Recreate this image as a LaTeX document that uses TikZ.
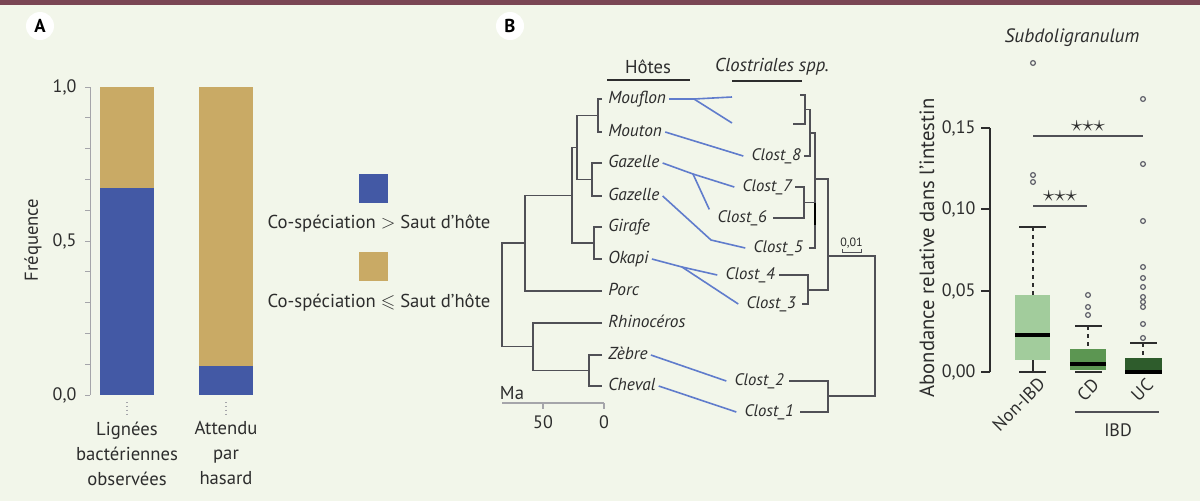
\documentclass[tikz,border=0pt]{standalone}
\usepackage{amsmath}
\usepackage{amssymb}
\usepackage{fontspec}
\setmainfont{PT Sans}
\usetikzlibrary{positioning, calc}

\definecolor{bgcol}{RGB}{242,246,234}
\definecolor{topbar}{RGB}{122,70,84}
\definecolor{ink}{RGB}{45,45,45}
\definecolor{axgray}{RGB}{165,165,170}
\definecolor{barblue}{RGB}{67,89,165}
\definecolor{bartan}{RGB}{201,170,101}
\definecolor{linkblue}{RGB}{96,124,204}
\definecolor{treegray}{RGB}{80,80,86}
\definecolor{dotgray}{RGB}{95,95,105}
\definecolor{lgreen}{RGB}{162,204,156}
\definecolor{mgreen}{RGB}{92,150,82}
\definecolor{dgreen}{RGB}{46,92,44}

\begin{document}
\begin{tikzpicture}[x=0.75pt, y=-0.75pt,
  txt/.style={text=ink, inner sep=1pt},
  big/.style={txt, font=\fontsize{14}{18.75}\selectfont},
  num/.style={txt, font=\fontsize{13.5}{15}\selectfont},
  host/.style={txt, font=\fontsize{13}{14}\selectfont\itshape, anchor=west,
    inner xsep=2.25pt, text height=8.5pt, text depth=2pt},
  clost/.style={txt, font=\fontsize{12.5}{14}\selectfont\itshape, anchor=east,
    inner xsep=6pt, text height=8.5pt, text depth=2pt},
  branch/.style={draw=treegray, line width=1.1pt},
  link/.style={draw=linkblue, line width=1.2pt},
  whisk/.style={draw=ink, line width=1pt},
  outl/.style={draw=dotgray, line width=0.9pt},
  stars/.style={txt, font=\fontsize{17}{17}\selectfont},
  panel/.style={circle, fill=white, minimum size=21pt, inner sep=0pt,
    font=\fontsize{14}{15}\selectfont\bfseries}]

% background
\fill[bgcol] (0,0) rectangle (1200,501);
\useasboundingbox (0,0) rectangle (1200,501);
\fill[topbar] (0,0) rectangle (1200,5);

% panel letters
\node[panel] (pA) at (40,26) {A};
\node[panel] (pB) at (510,26) {B};

% A: axis
\draw[axgray, line width=0.7pt] (90,87) -- (90,395);
\foreach \i in {0,...,10}
  \draw[axgray, line width=0.7pt] (85,{395-30.8*\i}) -- (90,{395-30.8*\i});
\node[num, anchor=east] (t10) at (78,87) {1,0};
\node[num, anchor=east] (t05) at (78,241) {0,5};
\node[num, anchor=east] (t00) at (78,395) {0,0};
\node[big, rotate=90] (freq) at (33,240) {Fréquence};

% A: bars
\fill[bartan] (100,87) rectangle (154,188);
\fill[barblue] (100,188) rectangle (154,395);
\fill[bartan] (199,87) rectangle (253,366);
\fill[barblue] (199,366) rectangle (253,395);
\draw[axgray, dotted, line width=0.9pt] (127,402) -- (127,416);
\draw[axgray, dotted, line width=0.9pt] (226,402) -- (226,416);
\node[big, align=center, anchor=north] (obs) at (127,420) {Lignées\\bactériennes\\observées};
\node[big, align=center, anchor=north] (hasard) at (226,420) {Attendu\\par\\hasard};

% A: legend
\node[fill=barblue, minimum size=21.75pt, inner sep=0pt] (sq1) at (373.5,188.5) {};
\node[big] (leg1) at (379,224) {Co-spéciation $>$ Saut d’hôte};
\node[fill=bartan, minimum size=21.75pt, inner sep=0pt] (sq2) at (373.5,266.5) {};
\node[big] (leg2) at (379,303) {Co-spéciation $\leqslant$ Saut d’hôte};

% B: headers
\node[big] (hotes) at (648,67) {Hôtes};
\draw[ink, line width=1.8pt] (607,80) -- (690,80);
\node[txt, font=\fontsize{14}{15}\selectfont\itshape] (clostr) at (772,67) {Clostriales spp.};
\draw[ink, line width=1.8pt] (732,81) -- (802,81);

% B: hosts
\node[host] (mouflon) at (605,99) {Mouflon};
\node[host] (mouton) at (605,132) {Mouton};
\node[host] (gazA) at (605,163) {Gazelle};
\node[host] (gazB) at (605,196) {Gazelle};
\node[host] (girafe) at (605,227) {Girafe};
\node[host] (okapi) at (605,259) {Okapi};
\node[host] (porc) at (605,291) {Porc};
\node[host] (rhino) at (605,323) {Rhinocéros};
\node[host] (zebre) at (605,355) {Zèbre};
\node[host] (cheval) at (605,386) {Cheval};

% B: host tree
\draw[branch] (602,99) -| (598,132) -- (602,132);
\draw[branch] (602,163) -| (592,196) -- (602,196);
\draw[branch] (598,115.5) -| (577,179.5) -- (592,179.5);
\draw[branch] (602,227) -| (594,259) -- (602,259);
\draw[branch] (577,147.5) -| (572,243) -- (594,243);
\draw[branch] (572,195.25) -| (525,291) -- (602,291);
\draw[branch] (602,355) -| (589,386) -- (602,386);
\draw[branch] (602,323) -| (533,370.5) -- (589,370.5);
\draw[branch] (525,243.1) -| (502,346.75) -- (533,346.75);

% B: time scale
\node[big] (ma) at (512,393) {Ma};
\draw[axgray, line width=0.9pt] (502,403) -- (604,403);
\draw[axgray, line width=0.9pt] (543,403) -- (543,409);
\draw[axgray, line width=0.9pt] (604,403) -- (604,409);
\node[num] (m50) at (543,422) {50};
\node[num] (m0) at (604,422) {0};

% B: bacteria
\node[clost] (c8) at (809,156) {Clost\_8};
\node[clost] (c7) at (800,187) {Clost\_7};
\node[clost] (c6) at (775,218) {Clost\_6};
\node[clost] (c5) at (811,248) {Clost\_5};
\node[clost] (c4) at (783,275) {Clost\_4};
\node[clost] (c3) at (804,304) {Clost\_3};
\node[clost] (c2) at (792,381) {Clost\_2};
\node[clost] (c1) at (802,412) {Clost\_1};

% B: bacteria tree
\draw[branch] (800,95) -| (805,124) -- (793,124);
\draw[branch] (805,109.5) -| (810,156) -- (804,156);
\draw[branch] (795,187) -| (804,218) -- (773,218);
\draw[branch] (810,133) -| (815,248) -- (809,248);
\draw[branch] (804,202.5) -- (815,202.5);
\draw[black, line width=2.2pt] (815,203) -- (815,225);
\draw[branch] (815,179) -| (828,290) -- (808,290);
\draw[branch] (779,275) -| (808,304) -- (802,304);
\draw[branch] (789,381) -| (828,412) -- (800,412);
\draw[branch] (828,256) -| (875,396) -- (828,396);
\draw[treegray, line width=0.6pt] (842,249) -- (842,252) -- (861,252) -- (861,249);
\node[txt, font=\fontsize{9}{10}\selectfont] (sc) at (851.5,243) {0,01};

% B: host-bacteria links
\coordinate (jm) at (694,99);
\coordinate (u1) at (732,97);
\coordinate (u2) at (732,123);
\draw[link] (mouflon.east) -- (jm) -- (u1);
\draw[link] (jm) -- (u2);
\draw[link] (mouton.east) -- (c8.west);
\coordinate (jg) at (693,174);
\draw[link] (gazA.east) -- (jg) -- (c7.west);
\draw[link] (jg) -- (c6.north west);
\coordinate (kg) at (711,240);
\draw[link] (gazB.east) -- (kg) -- (c5.west);
\coordinate (jo) at (682,267);
\draw[link] (okapi.east) -- (jo) -- (c4.west);
\draw[link] (jo) -- (c3.west);
\draw[link] (zebre.east) -- (c2.west);
\draw[link] (cheval.east) -- (c1.west);

% B: boxplot axis
\node[txt, font=\fontsize{14.5}{15}\selectfont\itshape] (subdo) at (1072,38) {Subdoligranulum};
\node[txt, font=\fontsize{15.5}{16}\selectfont, rotate=90] (abond) at (927,248) {Abondance relative dans l’intestin};
\draw[ink, line width=1.3pt] (990,128) -- (990,372);
\foreach \y/\l in {372/{0,00}, 291/{0,05}, 209/{0,10}, 128/{0,15}} {
  \draw[ink, line width=1.3pt] (981,\y) -- (990,\y);
  \node[num, anchor=east] at (977,\y) {\l};
}

% Non-IBD
\fill[lgreen] (1015,295) rectangle (1050,360);
\draw[whisk, dashed] (1033,227) -- (1033,295);
\draw[whisk] (1019,227) -- (1046,227);
\draw[whisk] (1033,360) -- (1033,372);
\draw[whisk] (1019,372) -- (1046,372);
\draw[black, line width=3pt] (1015,335) -- (1050,335);
\foreach \y in {63,175,182}
  \draw[outl] (1033,\y) circle[radius=1.8pt];

% CD
\fill[mgreen] (1070,349) rectangle (1106,370);
\draw[whisk, dashed] (1088,326) -- (1088,349);
\draw[whisk] (1075,326) -- (1102,326);
\draw[whisk] (1075,372) -- (1102,372);
\draw[black, line width=3pt] (1070,364) -- (1106,364);
\foreach \y in {295,307,315}
  \draw[outl] (1088,\y) circle[radius=1.8pt];

% UC
\fill[dgreen] (1125,358) rectangle (1162,373);
\draw[whisk, dashed] (1143,343) -- (1143,358);
\draw[whisk] (1130,343) -- (1157,343);
\draw[black, line width=3pt] (1125,372) -- (1162,372);
\foreach \y in {99,164,221,267,278,287,297,302,307,324,338}
  \draw[outl] (1143,\y) circle[radius=1.8pt];

% significance
\draw[treegray, line width=0.8pt] (1033,136) -- (1143,136);
\node[stars] (s1) at (1088,126) {${\star}{\star}{\star}$};
\draw[treegray, line width=0.8pt] (1033,206) -- (1087,206);
\node[stars] (s2) at (1060,196) {${\star}{\star}{\star}$};

% groups
\node[num, inner sep=0pt, rotate=45, anchor=east] (nonibd) at (1042,381) {Non-IBD};
\node[num, inner sep=0pt, rotate=45, anchor=east] (cd) at (1096,382) {CD};
\node[num, inner sep=0pt, rotate=45, anchor=east] (uc) at (1150,382) {UC};
\draw[treegray, line width=0.8pt] (1075,412) -- (1159,412);
\node[num] (ibd) at (1118,430) {IBD};
\end{tikzpicture}
\end{document}
